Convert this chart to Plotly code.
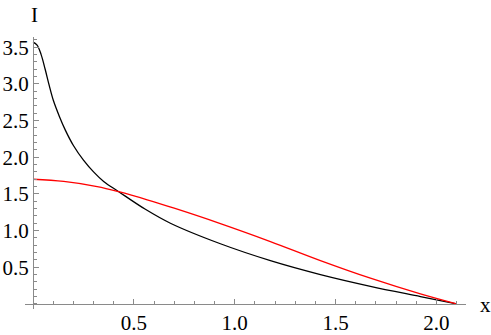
import plotly.graph_objects as go

# Black curve
x_black = [0.0, 0.02, 0.04, 0.06, 0.08, 0.10, 0.13, 0.16, 0.20, 0.25, 0.30, 0.35,
           0.425, 0.557, 0.681, 0.929, 1.177, 1.425, 1.673, 1.921, 2.10]
y_black = [3.57, 3.53, 3.40, 3.20, 2.98, 2.78, 2.56, 2.37, 2.16, 1.96, 1.80, 1.67,
           1.53, 1.29, 1.10, 0.82, 0.59, 0.40, 0.24, 0.10, 0.0]

# Red curve
x_red = [0.0, 0.152, 0.318, 0.425, 0.566, 0.700, 0.929, 1.177, 1.425, 1.673, 1.921, 2.10]
y_red = [1.70, 1.67, 1.60, 1.53, 1.42, 1.305, 1.095, 0.85, 0.59, 0.35, 0.136, 0.0]

x_ticks = [0.5, 1.0, 1.5, 2.0]
x_tick_labels = ["0.5", "1.0", "1.5", "2.0"]
y_ticks = [0.5, 1.0, 1.5, 2.0, 2.5, 3.0, 3.5]
y_tick_labels = ["0.5", "1.0", "1.5", "2.0", "2.5", "3.0", "3.5"]

x_range = [-0.04, 2.147]
y_range = [-0.07, 3.64]

FONT = "Liberation Serif"
FSIZE = 21
AXIS_COLOR = "#8a8a8a"

fig = go.Figure()
fig.add_trace(go.Scatter(x=x_black, y=y_black, mode="lines",
                         line=dict(color="black", width=1.3, shape="spline", smoothing=1.0),
                         hoverinfo="skip"))
fig.add_trace(go.Scatter(x=x_red, y=y_red, mode="lines",
                         line=dict(color="red", width=1.3, shape="spline", smoothing=1.0),
                         hoverinfo="skip"))

x_pos = (0 - y_range[0]) / (y_range[1] - y_range[0])
y_pos = (0 - x_range[0]) / (x_range[1] - x_range[0])

fig.update_layout(
    width=491, height=335,
    margin=dict(l=24.5, r=25.3, t=37.2, b=25.9, autoexpand=False),
    paper_bgcolor="white", plot_bgcolor="white",
    showlegend=False,
    font=dict(family=FONT, size=FSIZE, color="black"),
    xaxis=dict(range=x_range, anchor="free", position=x_pos, automargin=False,
               showgrid=False, zeroline=False,
               showline=True, linecolor=AXIS_COLOR, linewidth=1,
               ticks="inside", ticklen=5, tickcolor=AXIS_COLOR, tickwidth=1,
               tickmode="array", tickvals=x_ticks, ticktext=x_tick_labels,
               minor=dict(ticks="inside", ticklen=3, tickcolor=AXIS_COLOR,
                          tick0=0, dtick=0.1, showgrid=False),
               tickfont=dict(family=FONT, size=FSIZE, color="black")),
    yaxis=dict(range=y_range, anchor="free", position=y_pos, automargin=False,
               showgrid=False, zeroline=False,
               showline=True, linecolor=AXIS_COLOR, linewidth=1,
               ticks="inside", ticklen=5, tickcolor=AXIS_COLOR, tickwidth=1,
               tickmode="array", tickvals=y_ticks, ticktext=y_tick_labels,
               minor=dict(ticks="inside", ticklen=3, tickcolor=AXIS_COLOR,
                          tick0=0, dtick=0.1, showgrid=False),
               tickfont=dict(family=FONT, size=FSIZE, color="black")),
    annotations=[
        dict(text="I", xref="paper", yref="paper", x=y_pos, y=1, xanchor="center",
             yanchor="middle", yshift=22.5, xshift=1, showarrow=False,
             font=dict(family=FONT, size=FSIZE, color="black")),
        dict(text="x", xref="paper", yref="paper", x=1, y=x_pos, xanchor="left",
             yanchor="middle", xshift=13, yshift=-1, showarrow=False,
             borderpad=0,
             font=dict(family=FONT, size=FSIZE, color="black")),
    ],
)

fig.write_html("out.html",
               config={"displayModeBar": False},
               post_script="document.body.style.margin='0';document.body.style.overflow='hidden';")
